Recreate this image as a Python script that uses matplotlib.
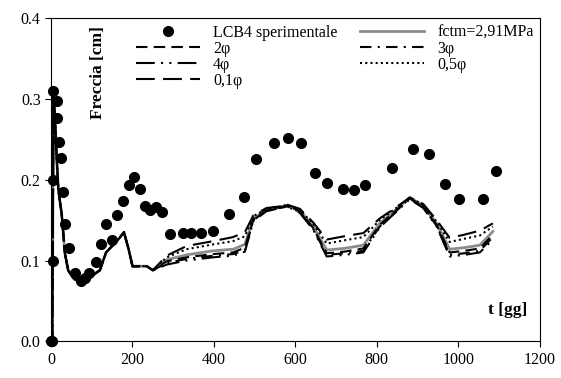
import matplotlib
matplotlib.use("Agg")
import matplotlib.pyplot as plt

plt.rcParams['font.family'] = ['Liberation Serif', 'DejaVu Serif']
plt.rcParams['font.size'] = 11.5

# experimental data
t_exp = [0, 2, 4, 5, 6, 14, 15, 20, 24, 29, 35, 45, 59, 73, 83, 94, 110, 122, 135, 149,
         161, 176, 192, 204, 218, 231, 243, 258, 273, 292, 325, 344, 368, 397, 436, 474,
         503, 547, 582, 613, 648, 678, 716, 744, 772, 838, 889, 927, 967, 1001, 1062, 1092]
f_exp = [0, 0, 0.1, 0.2, 0.31, 0.298, 0.277, 0.247, 0.227, 0.185, 0.145, 0.115, 0.085, 0.075,
         0.079, 0.084, 0.098, 0.121, 0.145, 0.126, 0.156, 0.174, 0.193, 0.203, 0.188, 0.168,
         0.163, 0.166, 0.160, 0.133, 0.134, 0.134, 0.134, 0.137, 0.157, 0.179, 0.226, 0.245,
         0.252, 0.246, 0.208, 0.196, 0.189, 0.187, 0.194, 0.215, 0.238, 0.232, 0.195, 0.176,
         0.176, 0.211]

# model time steps
t_mod = [0, 3, 6, 10, 14, 18, 26, 34, 42, 55, 68, 85, 100, 120, 135, 150, 165, 179, 190, 200,
         235, 250, 284, 333, 398, 447, 476, 497, 529, 562, 580, 611, 644, 677, 720, 767, 807,
         845, 881, 914, 947, 979, 1015, 1053, 1085]
# common first part (t <= 250)
head = [0, 0, 0.31, 0.27, 0.225, 0.187, 0.158, 0.109, 0.088, 0.078, 0.074, 0.077, 0.081,
        0.088, 0.110, 0.118, 0.126, 0.135, 0.115, 0.093, 0.093, 0.088]
fctm = head + [0.101, 0.107, 0.112, 0.114, 0.120, 0.152, 0.163, 0.166, 0.168, 0.162, 0.142,
               0.113, 0.115, 0.119, 0.146, 0.162, 0.178, 0.168, 0.146, 0.114, 0.116, 0.119, 0.136]
phi01 = head + [0.106, 0.118, 0.124, 0.129, 0.135, 0.156, 0.165, 0.167, 0.169, 0.164, 0.147,
                0.126, 0.130, 0.134, 0.152, 0.165, 0.178, 0.170, 0.150, 0.128, 0.132, 0.137, 0.146]
phi05 = head + [0.104, 0.114, 0.120, 0.124, 0.130, 0.155, 0.164, 0.167, 0.169, 0.163, 0.145,
                0.121, 0.125, 0.129, 0.150, 0.164, 0.178, 0.169, 0.148, 0.123, 0.127, 0.131, 0.142]
phi2 = head + [0.099, 0.104, 0.108, 0.110, 0.116, 0.151, 0.162, 0.166, 0.168, 0.161, 0.140,
               0.109, 0.111, 0.115, 0.144, 0.161, 0.177, 0.167, 0.144, 0.110, 0.112, 0.115, 0.132]
phi3 = head + [0.097, 0.102, 0.106, 0.108, 0.113, 0.150, 0.162, 0.165, 0.167, 0.160, 0.139,
               0.107, 0.109, 0.112, 0.142, 0.160, 0.177, 0.166, 0.143, 0.107, 0.109, 0.112, 0.129]
phi4 = head + [0.095, 0.100, 0.104, 0.106, 0.111, 0.149, 0.161, 0.165, 0.167, 0.159, 0.138,
               0.105, 0.107, 0.110, 0.141, 0.159, 0.176, 0.165, 0.142, 0.105, 0.107, 0.110, 0.126]

fig = plt.figure(figsize=(5.61, 3.78), dpi=100)
ax = fig.add_axes([0.091, 0.097, 0.871, 0.855])

h_fctm, = ax.plot(t_mod, fctm, color='#8c8c8c', lw=2, label='fctm=2,91MPa')
h2, = ax.plot(t_mod, phi2, color='black', lw=1.5, dashes=(5.5, 3), label='2φ')
h3, = ax.plot(t_mod, phi3, color='black', lw=1.5, dashes=(5.5, 3, 1, 3), label='3φ')
h4, = ax.plot(t_mod, phi4, color='black', lw=1.5, dashes=(9, 3, 1, 3, 1, 3), label='4φ')
h05, = ax.plot(t_mod, phi05, color='black', lw=1.5, dashes=(1, 1.5), label='0,5φ')
h01, = ax.plot(t_mod, phi01, color='black', lw=1.5, dashes=(9, 4), label='0,1φ')
h_exp, = ax.plot(t_exp, f_exp, 'o', color='black', ms=7, clip_on=False,
                 label='LCB4 sperimentale')

ax.set_xlim(0, 1200)
ax.set_ylim(0, 0.4)
ax.set_xticks(range(0, 1201, 200))
ax.set_yticks([0.0, 0.1, 0.2, 0.3, 0.4])
ax.set_yticklabels(['0.0', '0.1', '0.2', '0.3', '0.4'])
ax.tick_params(direction='out', length=4, top=False, right=False)

ax.text(0.096, 0.833, 'Freccia [cm]', transform=ax.transAxes, rotation=90,
        fontweight='bold', fontsize=12.5, ha='center', va='center')
ax.text(0.935, 0.096, 't [gg]', transform=ax.transAxes, fontweight='bold',
        fontsize=12.5, ha='center', va='center')

ax.legend([h_exp, h2, h4, h01, h_fctm, h3, h05],
          ['LCB4 sperimentale', '2φ', '4φ', '0,1φ', 'fctm=2,91MPa', '3φ', '0,5φ'],
          ncol=2, frameon=False, loc='upper left', bbox_to_anchor=(0.16, 1.0),
          borderaxespad=0, handlelength=4, handletextpad=0.85, columnspacing=1.4,
          labelspacing=0)

fig.savefig('out.png', dpi=100)
